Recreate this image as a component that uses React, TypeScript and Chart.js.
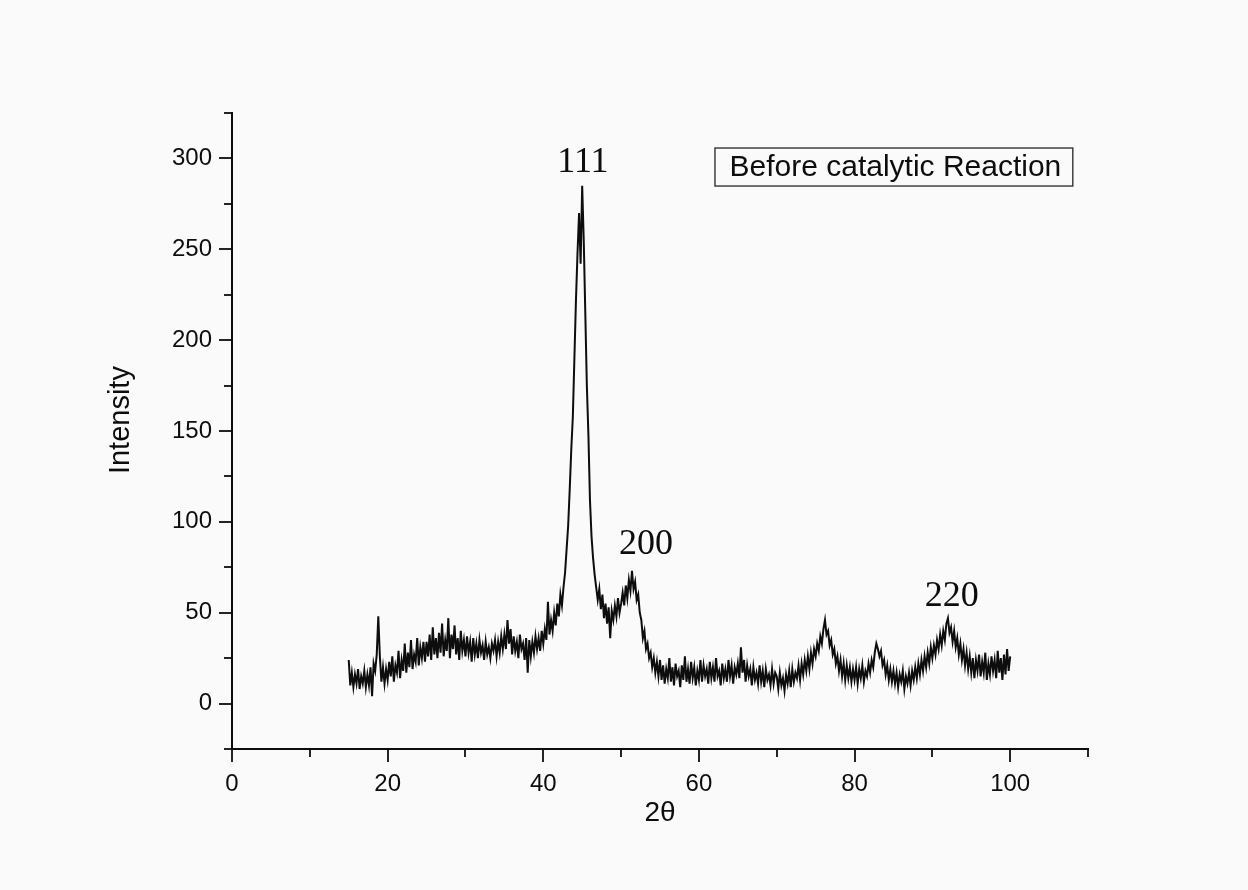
import React, { useEffect, useRef } from 'react';
import { Chart, registerables } from 'chart.js';

Chart.register(...registerables);

// 2θ grid of the scan (instrument step)
const thetaStart = 15;
const thetaStep = 0.2;

// Intensity, one value per 0.2° from 15° to 100°
const intensity15to20 = [24, 10, 17, 9, 16, 11, 19, 8, 15, 11, 18, 9, 16, 10, 20, 4, 22, 18, 27, 48, 26, 12, 20, 11, 19];
const intensity20to25 = [13, 23, 15, 26, 12, 21, 17, 29, 14, 24, 18, 33, 17, 28, 20, 35, 19, 27, 23, 36, 21, 31, 25, 34, 23];
const intensity25to30 = [34, 26, 38, 24, 42, 27, 36, 25, 39, 28, 44, 26, 35, 29, 47, 25, 38, 30, 43, 27, 36, 24, 40, 29, 35];
const intensity30to35 = [26, 37, 28, 34, 23, 36, 27, 33, 25, 35, 28, 32, 24, 34, 27, 31, 25, 33, 29, 35, 26, 34, 28, 37, 30];
const intensity35to40 = [38, 30, 46, 33, 41, 27, 37, 29, 34, 25, 38, 30, 33, 24, 36, 17, 35, 26, 34, 28, 37, 30, 36, 29, 40];
const intensity40to45 = [33, 41, 35, 56, 38, 46, 40, 50, 43, 55, 48, 60, 54, 64, 72, 85, 98, 118, 140, 158, 190, 222, 248, 270, 242];
const intensity45to50 = [285, 255, 215, 175, 148, 112, 92, 80, 71, 64, 57, 63, 52, 60, 47, 55, 44, 53, 36, 51, 46, 54, 48, 58, 50];
const intensity50to55 = [55, 61, 54, 65, 58, 68, 62, 73, 63, 67, 57, 60, 50, 46, 36, 40, 30, 33, 25, 28, 20, 25, 17, 23, 15];
const intensity55to60 = [24, 13, 21, 11, 19, 14, 25, 12, 20, 10, 22, 15, 18, 9, 21, 13, 26, 12, 19, 11, 23, 14, 20, 10, 18];
const intensity60to65 = [13, 24, 12, 21, 15, 19, 11, 23, 14, 20, 12, 25, 15, 18, 10, 22, 14, 19, 12, 24, 15, 21, 11, 20, 16];
const intensity65to70 = [22, 14, 31, 17, 24, 12, 21, 15, 19, 10, 20, 13, 17, 11, 21, 12, 18, 9, 19, 13, 16, 10, 19, 11, 17];
const intensity70to75 = [15, 8, 17, 10, 14, 7, 16, 11, 18, 9, 19, 12, 17, 14, 21, 13, 22, 16, 24, 18, 26, 19, 28, 22, 30];
const intensity75to80 = [26, 33, 29, 37, 33, 41, 46, 38, 40, 32, 35, 27, 30, 22, 26, 18, 24, 15, 22, 13, 21, 14, 20, 12, 19];
const intensity80to85 = [13, 20, 11, 19, 14, 21, 12, 18, 15, 22, 17, 24, 20, 28, 33, 30, 26, 29, 21, 24, 16, 21, 13, 19, 12];
const intensity85to90 = [18, 11, 17, 9, 16, 12, 18, 8, 15, 11, 17, 10, 18, 13, 20, 14, 22, 16, 24, 18, 26, 20, 28, 22, 31];
const intensity90to95 = [25, 32, 27, 35, 30, 38, 32, 40, 35, 44, 47, 39, 42, 34, 40, 31, 36, 27, 33, 24, 30, 21, 28, 19, 26];
const intensity95to100 = [17, 25, 14, 24, 18, 27, 15, 23, 17, 28, 13, 22, 16, 26, 18, 24, 14, 29, 17, 25, 13, 27, 16, 30, 18, 26];

const intensity = [
  ...intensity15to20, ...intensity20to25, ...intensity25to30, ...intensity30to35,
  ...intensity35to40, ...intensity40to45, ...intensity45to50, ...intensity50to55,
  ...intensity55to60, ...intensity60to65, ...intensity65to70, ...intensity70to75,
  ...intensity75to80, ...intensity80to85, ...intensity85to90, ...intensity90to95,
  ...intensity95to100,
];

// Axes
const xRange = [0, 110];
const xTickStep = 10;
const xLabelEvery = 20;
const xLabelMax = 100;
const yRange = [-25, 325];
const yTickStep = 25;
const yLabelEvery = 50;
const yLabelMin = 0;
const yLabelMax = 300;
const yTitle = 'Intensity';
const yTitleAt = 156;

// Annotations
const peakNames = ['111', '200', '220'];
const peakNameX = [45.1, 53.2, 92.5];
const peakNameY = [298, 87.5, 59];
const boxText = 'Before catalytic Reaction';
const boxAnchor = [62, 306];

const INK = '#0d0d0d';
const SANS = "'Liberation Sans', Arial, Helvetica, sans-serif";
const SERIF = "'Liberation Serif', 'Times New Roman', serif";

const annotationPlugin = {
  id: 'xrdAnnotations',
  afterDraw(chart: any) {
    const { ctx, chartArea } = chart;
    const xs = chart.scales.x;
    const ys = chart.scales.y;
    ctx.save();
    ctx.strokeStyle = INK;
    ctx.lineWidth = 1.8;
    ctx.lineCap = 'butt';
    // x ticks (outside, downward)
    for (let v = xRange[0]; v <= xRange[1]; v += xTickStep) {
      const px = Math.round(xs.getPixelForValue(v));
      const len = v % xLabelEvery === 0 ? 13 : 8;
      ctx.beginPath();
      ctx.moveTo(px, chartArea.bottom);
      ctx.lineTo(px, chartArea.bottom + len);
      ctx.stroke();
    }
    // y ticks (outside, leftward)
    for (let v = yRange[0]; v <= yRange[1]; v += yTickStep) {
      const py = Math.round(ys.getPixelForValue(v));
      const len = v % yLabelEvery === 0 ? 13 : 8;
      ctx.beginPath();
      ctx.moveTo(chartArea.left, py);
      ctx.lineTo(chartArea.left - len, py);
      ctx.stroke();
    }
    ctx.fillStyle = INK;
    // y-axis title
    ctx.save();
    ctx.font = `29px ${SANS}`;
    ctx.translate(121, ys.getPixelForValue(yTitleAt));
    ctx.rotate(-Math.PI / 2);
    ctx.textAlign = 'center';
    ctx.textBaseline = 'middle';
    ctx.fillText(yTitle, 0, 0);
    ctx.restore();
    // peak names
    ctx.font = `36px ${SERIF}`;
    ctx.textAlign = 'center';
    ctx.textBaseline = 'middle';
    peakNames.forEach((name, i) => {
      ctx.fillText(name, xs.getPixelForValue(peakNameX[i]), ys.getPixelForValue(peakNameY[i]));
    });
    // labelled box
    ctx.font = `30px ${SANS}`;
    const tw = ctx.measureText(boxText).width;
    const bx = xs.getPixelForValue(boxAnchor[0]);
    const by = ys.getPixelForValue(boxAnchor[1]);
    const bw = tw + 26;
    const bh = 38;
    ctx.lineWidth = 1.4;
    ctx.strokeStyle = '#333';
    ctx.strokeRect(bx + 0.5, by + 0.5, bw, bh);
    ctx.textAlign = 'left';
    ctx.fillText(boxText, bx + 15, by + bh / 2 + 1);
    ctx.restore();
  },
};

export default function App() {
  const canvasRef = useRef<HTMLCanvasElement | null>(null);

  useEffect(() => {
    const canvas = canvasRef.current;
    if (!canvas) return;
    const points = intensity.map((v, i) => ({
      x: Math.round((thetaStart + i * thetaStep) * 100) / 100,
      y: v,
    }));
    const chart = new Chart(canvas, {
      type: 'line',
      data: {
        datasets: [
          {
            data: points,
            borderColor: INK,
            borderWidth: 2,
            pointRadius: 0,
            tension: 0,
            fill: false,
          },
        ],
      },
      options: {
        animation: false,
        responsive: false,
        devicePixelRatio: 1,
        parsing: false,
        layout: { padding: { top: 113, right: 160, left: 0, bottom: 0 } },
        plugins: {
          legend: { display: false },
          tooltip: { enabled: false },
        },
        scales: {
          x: {
            type: 'linear',
            min: xRange[0],
            max: xRange[1],
            grid: { display: false },
            border: { display: true, color: INK, width: 2 },
            afterFit(scale: any) {
              scale.height = 141;
            },
            ticks: {
              stepSize: xTickStep,
              autoSkip: false,
              maxRotation: 0,
              padding: 13,
              color: INK,
              font: { family: SANS, size: 24 },
              callback: (value: any) => {
                const v = Number(value);
                return v % xLabelEvery === 0 && v <= xLabelMax ? String(v) : '';
              },
            },
            title: {
              display: true,
              text: '2θ',
              color: INK,
              font: { family: SANS, size: 28, lineHeight: 1.2 },
              padding: { top: 0, bottom: 60 },
            },
          },
          y: {
            type: 'linear',
            min: yRange[0],
            max: yRange[1],
            grid: { display: false },
            border: { display: true, color: INK, width: 2 },
            afterFit(scale: any) {
              scale.width = 232;
            },
            ticks: {
              stepSize: yTickStep,
              autoSkip: false,
              padding: 12,
              color: INK,
              font: { family: SANS, size: 24 },
              callback: (value: any) => {
                const v = Number(value);
                return v % yLabelEvery === 0 && v >= yLabelMin && v <= yLabelMax ? String(v) : '';
              },
            },
            title: { display: false },
          },
        },
      },
      plugins: [annotationPlugin],
    });
    return () => chart.destroy();
  }, []);

  return (
    <div
      style={{
        position: 'absolute',
        left: 0,
        top: 0,
        width: 1248,
        height: 890,
        background: '#fafafa',
      }}
    >
      <canvas ref={canvasRef} width={1248} height={890} />
    </div>
  );
}
